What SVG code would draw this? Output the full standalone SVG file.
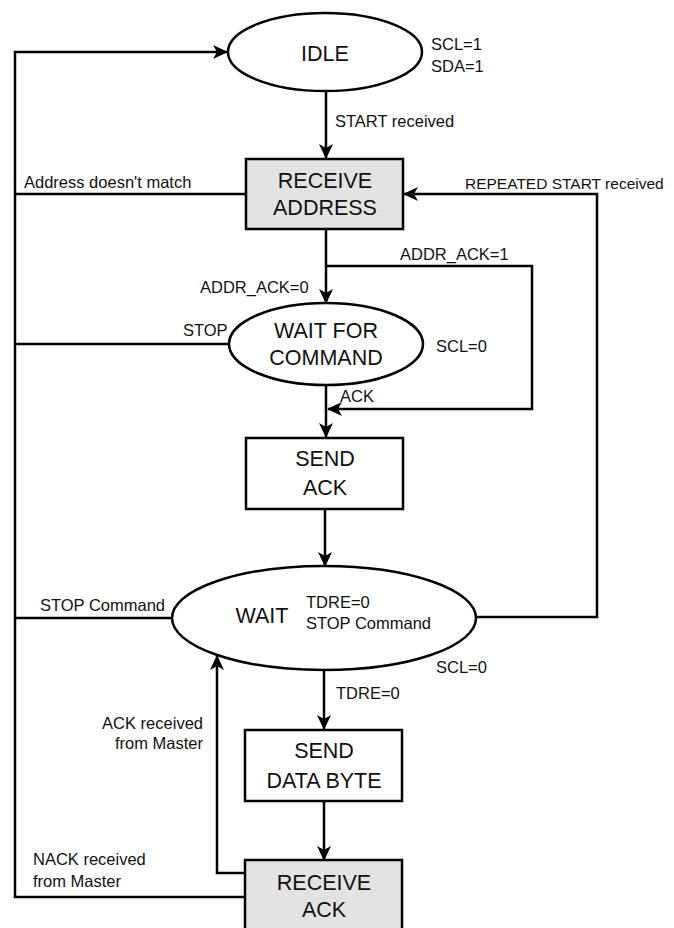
<svg xmlns="http://www.w3.org/2000/svg" width="674" height="928" viewBox="0 0 674 928">
<style>
.node{stroke:#000;stroke-width:2.5}
.st{fill:#fff}
.gray{fill:#e3e3e3}
.nt{font-family:"Liberation Sans",Arial,sans-serif;font-size:21.5px;fill:#111;text-anchor:middle}
.lb{font-family:"Liberation Sans",Arial,sans-serif;font-size:16.5px;fill:#111}
.cn{fill:none;stroke:#000;stroke-width:2.5}
</style>
<defs>
<marker id="ah" markerUnits="userSpaceOnUse" markerWidth="16" markerHeight="14" refX="14" refY="7" orient="auto">
<path d="M0,0 L15,7 L0,14 L4,7 z" fill="#000"/>
</marker>
</defs>
<rect width="674" height="928" fill="#fff"/>
<g id="connectors">
<path class="cn" d="M245,897 H15 V52 H227" marker-end="url(#ah)"/>
<path class="cn" d="M245,194 H15"/>
<path class="cn" d="M229,344 H15"/>
<path class="cn" d="M172,618 H15"/>
<path class="cn" d="M326,91 V158" marker-end="url(#ah)"/>
<path class="cn" d="M326,229 V303" marker-end="url(#ah)"/>
<path class="cn" d="M326,266 H532 V409 H328" marker-end="url(#ah)"/>
<path class="cn" d="M326,384 V437" marker-end="url(#ah)"/>
<path class="cn" d="M325,509 V566" marker-end="url(#ah)"/>
<path class="cn" d="M476,617 H597 V194 H404" marker-end="url(#ah)"/>
<path class="cn" d="M324,671 V729" marker-end="url(#ah)"/>
<path class="cn" d="M324,801 V860" marker-end="url(#ah)"/>
<path class="cn" d="M245,873 H217 V656" marker-end="url(#ah)"/>
</g>
<g id="idle">
<ellipse class="node st" cx="325" cy="52" rx="97" ry="39"/>
<text class="nt" x="325" y="61">IDLE</text>
<text class="lb" x="431" y="50">SCL=1</text>
<text class="lb" x="431" y="72">SDA=1</text>
</g>
<g id="receive-address">
<rect class="node gray" x="246" y="159" width="157" height="70"/>
<text class="nt" x="325" y="188">RECEIVE</text>
<text class="nt" x="325" y="215">ADDRESS</text>
</g>
<g id="wait-for-command">
<ellipse class="node st" cx="326" cy="344" rx="97" ry="41"/>
<text class="nt" x="326" y="338">WAIT FOR</text>
<text class="nt" x="326" y="365">COMMAND</text>
<text class="lb" x="436" y="352">SCL=0</text>
</g>
<g id="send-ack">
<rect class="node st" x="246" y="438" width="157" height="71"/>
<text class="nt" x="325" y="466">SEND</text>
<text class="nt" x="325" y="495">ACK</text>
</g>
<g id="wait">
<ellipse class="node st" cx="324" cy="618" rx="152" ry="52"/>
<text class="nt" x="262" y="623">WAIT</text>
<text class="lb" x="306" y="608">TDRE=0</text>
<text class="lb" x="306" y="629">STOP Command</text>
<text class="lb" x="436" y="673">SCL=0</text>
</g>
<g id="send-data-byte">
<rect class="node st" x="245" y="730" width="157" height="71"/>
<text class="nt" x="324" y="758">SEND</text>
<text class="nt" x="324" y="788">DATA BYTE</text>
</g>
<g id="receive-ack">
<rect class="node gray" x="245" y="860" width="157" height="80"/>
<text class="nt" x="324" y="890">RECEIVE</text>
<text class="nt" x="324" y="917">ACK</text>
</g>
<g id="labels">
<text class="lb" x="465" y="189" style="font-size:15.5px">REPEATED START received</text>
<text class="lb" x="335" y="127">START received</text>
<text class="lb" x="24" y="188">Address doesn't match</text>
<text class="lb" x="400" y="260">ADDR_ACK=1</text>
<text class="lb" x="200" y="293">ADDR_ACK=0</text>
<text class="lb" x="183" y="336">STOP</text>
<text class="lb" x="340" y="402">ACK</text>
<text class="lb" x="40" y="611">STOP Command</text>
<text class="lb" x="336" y="699">TDRE=0</text>
<text class="lb" x="203" y="729" text-anchor="end">ACK received</text>
<text class="lb" x="203" y="749" text-anchor="end">from Master</text>
<text class="lb" x="33" y="865">NACK received</text>
<text class="lb" x="33" y="887">from Master</text>
</g>
</svg>
